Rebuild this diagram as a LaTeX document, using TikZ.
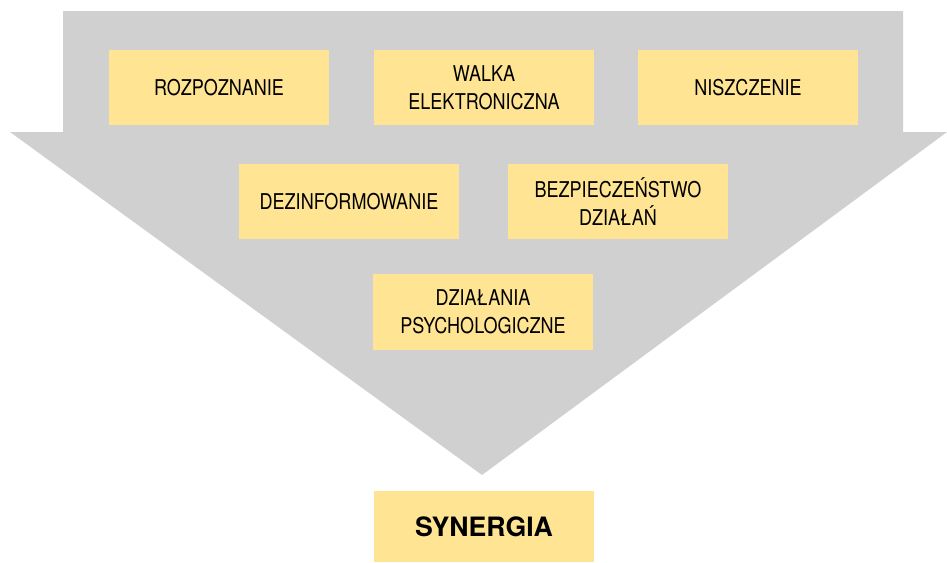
\documentclass[tikz,border=0pt]{standalone}
\usepackage{fontspec}
\setmainfont{TeX Gyre Heros}[FakeStretch=0.83]
\newfontfamily\synfont{TeX Gyre Heros}[FakeStretch=1.0]
\usepackage{xcolor}
\usepackage{tikz}
\usetikzlibrary{calc, positioning}

\definecolor{szary}{HTML}{D0D0D0}
\definecolor{zolty}{HTML}{FFE493}

\tikzset{
    pole/.style={fill=zolty, inner sep=0pt, minimum width=165pt, minimum height=56.5pt,
        align=center, font=\fontsize{16.3}{21}\selectfont},
    wynik/.style={pole, minimum height=53pt, font=\synfont\bfseries\fontsize{20}{24}\selectfont}
}

\begin{document}
\begin{tikzpicture}[x=0.75pt, y=-0.75pt]
    \useasboundingbox (0,0) rectangle (947,562);
    % 1. Strzałka w tle
    \fill[szary] (63,11) -- (903,11) -- (903,132) -- (947,132) -- (482,475)
        -- (10,132) -- (63,132) -- cycle;

    % 2. Pola
    \node[pole] (rozp) at (219,87.5) {ROZPOZNANIE};
    \node[pole] (walka) at (484,87.5) {WALKA\\ELEKTRONICZNA};
    \node[pole] (nisz) at (748,87.5) {NISZCZENIE};
    \node[pole] (dezin) at (349,201.5) {DEZINFORMOWANIE};
    \node[pole] (bezp) at (618,201.5) {BEZPIECZEŃSTWO\\DZIAŁAŃ};
    \node[pole] (psych) at (483,312) {DZIAŁANIA\\PSYCHOLOGICZNE};

    % 3. Wynik
    \node[wynik] (syn) at (484,526.5) {SYNERGIA};
\end{tikzpicture}
\end{document}
